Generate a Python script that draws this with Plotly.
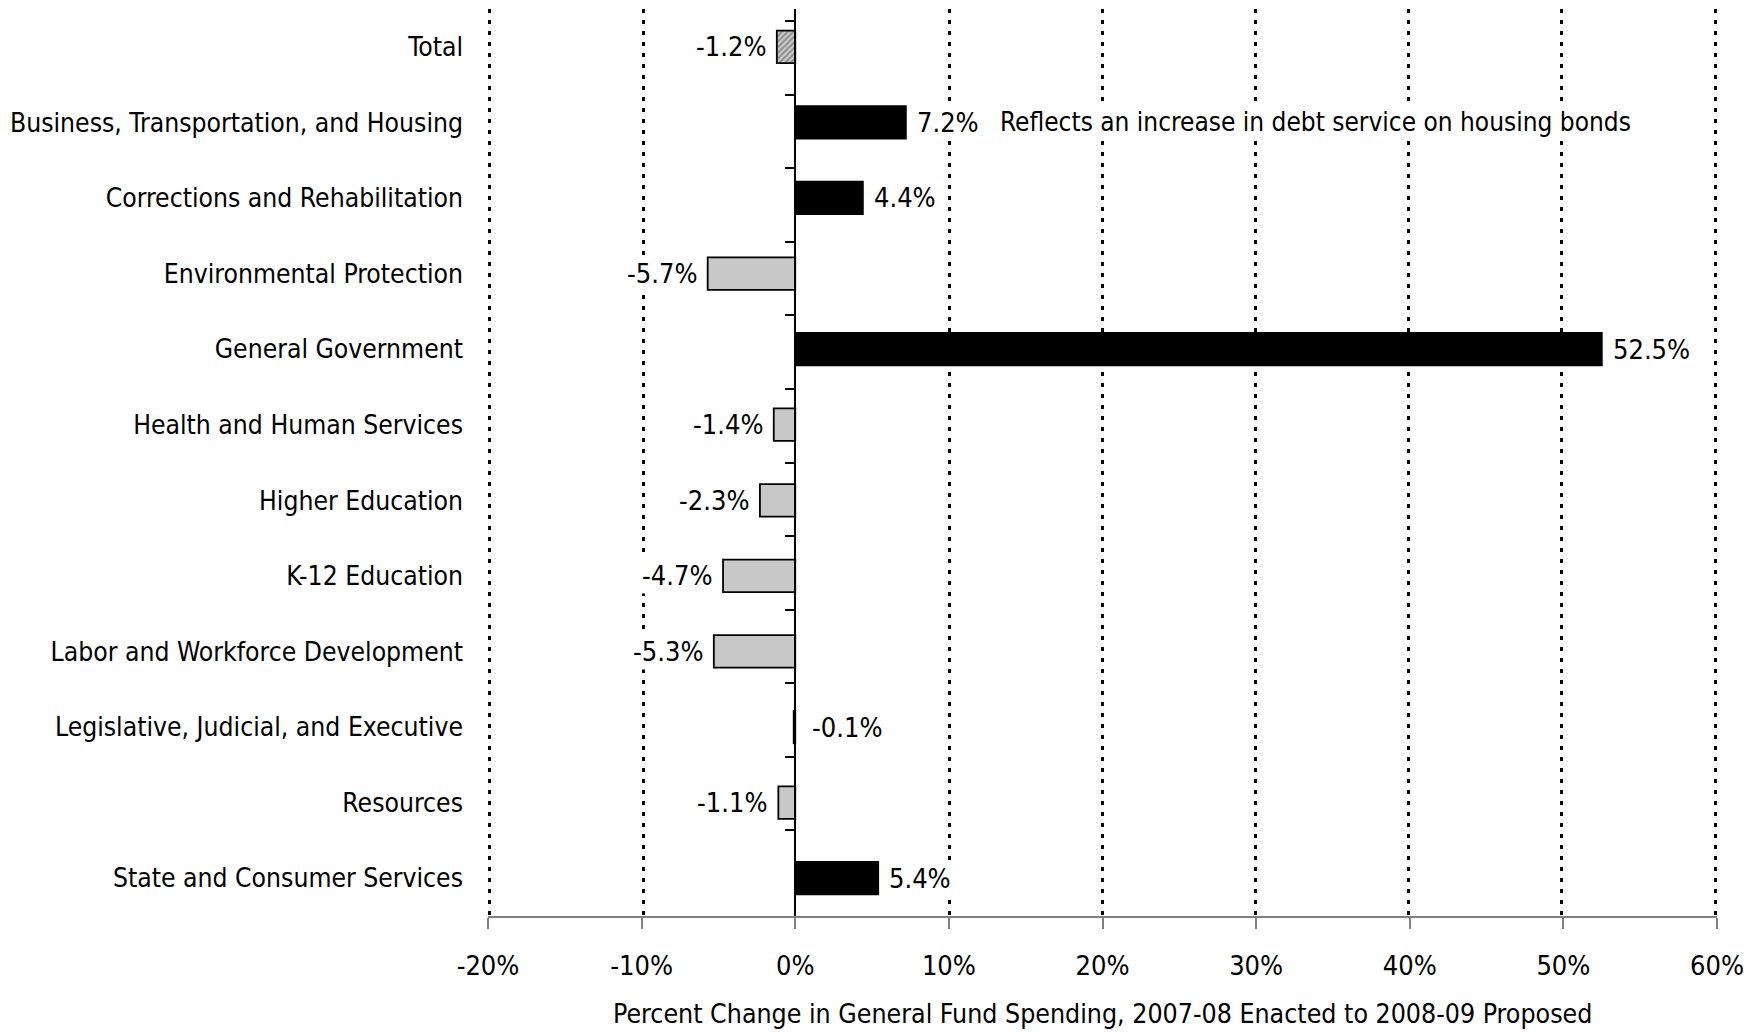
import plotly.graph_objects as go

categories = [
    "Total",
    "Business, Transportation, and Housing",
    "Corrections and Rehabilitation",
    "Environmental Protection",
    "General Government",
    "Health and Human Services",
    "Higher Education",
    "K-12 Education",
    "Labor and Workforce Development",
    "Legislative, Judicial, and Executive",
    "Resources",
    "State and Consumer Services",
]
values = [-1.2, 7.2, 4.4, -5.7, 52.5, -1.4, -2.3, -4.7, -5.3, -0.1, -1.1, 5.4]
tick_vals = [-20, -10, 0, 10, 20, 30, 40, 50, 60]
x_title = "Percent Change in General Fund Spending, 2007-08 Enacted to 2008-09 Proposed"
note_text = "Reflects an increase in debt service on housing bonds"
note_category = "Business, Transportation, and Housing"
note_x = 13.1

FONT = "DejaVu Sans Condensed, Liberation Sans Narrow, sans-serif"

# styles derived from data
colors, shapes, sides = [], [], []
for c, v in zip(categories, values):
    if c == "Total":
        colors.append("#c8c8c8"); shapes.append("/")
    elif v > -0.5:
        colors.append("#000000"); shapes.append("")
    else:
        colors.append("#c8c8c8"); shapes.append("")
    sides.append("right" if v > -0.5 else "left")

fig = go.Figure()
fig.add_trace(go.Bar(
    x=values, y=categories, orientation="h",
    marker=dict(color=colors, line=dict(color="#000000", width=1.8),
                pattern=dict(shape=shapes, fgcolor="#000000", size=4,
                             solidity=0.4, fillmode="overlay")),
    hoverinfo="skip", showlegend=False,
))
# helper trace for overlay axes (zero line with boundary ticks, gridlines)
fig.add_trace(go.Scatter(
    x=[0] * len(categories), y=categories, xaxis="x2", yaxis="y2",
    mode="markers", marker=dict(opacity=0), hoverinfo="skip", showlegend=False,
))

for c, v, s in zip(categories, values, sides):
    fig.add_annotation(
        x=max(v, 0) if s == "right" else v, y=c, text=f"{v:.1f}%",
        showarrow=False, xanchor="left" if s == "right" else "right",
        xshift=(8 if v > 0 else 14) if s == "right" else -8,
        bgcolor="white", borderpad=2,
        font=dict(family=FONT, size=27, color="#000000"),
    )
fig.add_annotation(
    x=note_x, y=note_category, text=note_text, showarrow=False, xanchor="left",
    bgcolor="white", borderpad=2,
    font=dict(family=FONT, size=26, color="#000000"),
)
fig.add_annotation(
    x=0.5, y=-0.108, xref="paper", yref="paper", text=x_title, showarrow=False,
    xanchor="center", yanchor="middle",
    font=dict(family=FONT, size=26.5, color="#000000"),
)

fig.update_layout(
    width=1761, height=1032,
    margin=dict(l=480, r=52, t=1, b=124),
    paper_bgcolor="white", plot_bgcolor="white",
    bargap=0.57,
    font=dict(family=FONT, size=26, color="#000000"),
    xaxis=dict(
        range=[-20, 60], tickvals=tick_vals,
        ticktext=[f"{t}%" for t in tick_vals],
        showgrid=False, zeroline=False, automargin=False,
        showline=True, linecolor="#808080", linewidth=2,
        ticks="outside", ticklen=11, tickcolor="#808080", tickwidth=1.5,
        ticklabelstandoff=14,
        tickfont=dict(family=FONT, size=27),
    ),
    xaxis2=dict(
        overlaying="x", anchor="y", range=[-20.13, 60.13],
        tickvals=[t for t in tick_vals if t != 0],
        showticklabels=False, ticks="", showline=False, zeroline=False,
        showgrid=True, gridcolor="#000000", gridwidth=3, griddash="4px,7px",
    ),
    yaxis=dict(
        autorange="reversed", showgrid=False, zeroline=False, showline=False,
        ticks="", ticklabelstandoff=24, automargin=False,
        tickfont=dict(family=FONT, size=26.3),
    ),
    yaxis2=dict(
        overlaying="y", anchor="free", position=0.25, side="left",
        type="category", categoryorder="array", categoryarray=categories,
        autorange="reversed", showticklabels=False, showgrid=False, zeroline=False,
        showline=True, linecolor="#000000", linewidth=1.5,
        ticks="outside", tickson="boundaries", ticklen=10, tickcolor="#000000", tickwidth=1.5,
    ),
)

fig.write_html("out.html")
